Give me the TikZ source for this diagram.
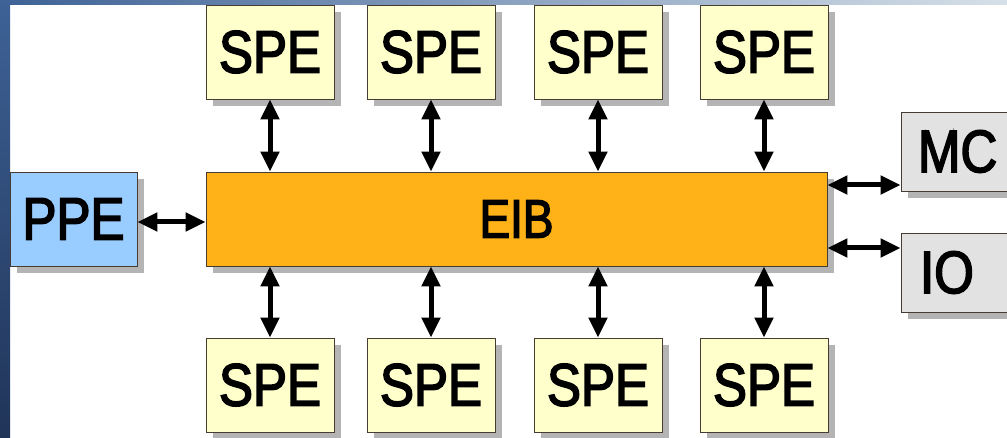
\documentclass[tikz,border=0pt]{standalone}
\usepackage{fontspec}
\newfontfamily\boxfont[FakeStretch=0.85,FakeBold=2.6]{Liberation Sans}
\usetikzlibrary{arrows.meta,shadows}

\definecolor{speFill}{RGB}{255,255,204}
\definecolor{ppeFill}{RGB}{153,204,255}
\definecolor{eibFill}{RGB}{255,178,24}
\definecolor{ioFill}{RGB}{226,226,226}
\definecolor{edge}{RGB}{70,60,50}
\definecolor{shadowGray}{RGB}{180,180,180}
\definecolor{frameDark}{RGB}{32,52,88}
\definecolor{frameMid}{RGB}{62,98,150}
\definecolor{frameLight}{RGB}{214,224,232}

\tikzset{
  unit/.style={draw=edge, line width=0.9pt, inner sep=0pt,
    font=\boxfont\fontsize{60}{60}\selectfont,
    drop shadow={shadow xshift=7pt, shadow yshift=-7pt, fill=shadowGray, opacity=1}},
  spebox/.style={unit, fill=speFill, minimum width=128pt, minimum height=94pt},
  link/.style={line width=5pt, {Triangle[length=20pt,width=18pt]}-{Triangle[length=20pt,width=18pt]}},
}

\begin{document}
\begin{tikzpicture}[x=1pt, y=-1pt]
  \useasboundingbox (0,0) rectangle (1007,438);
  \clip (0,0) rectangle (1007,438);
  \fill[white] (0,0) rectangle (1007,438);
  % slide frame: gradient strips along the left and top edges
  \shade[top color=frameMid, bottom color=frameDark] (0,0) rectangle (10,438);
  \shade[left color=frameMid, right color=frameLight] (0,0) rectangle (1007,5);

  % element interconnect bus
  \node[unit, fill=eibFill, minimum width=621pt, minimum height=94pt,
        font=\boxfont\fontsize{54}{54}\selectfont] (eib) at (516.5,219) {EIB};

  % power processor element
  \node[unit, fill=ppeFill, minimum width=127pt, minimum height=94pt] (ppe) at (73.5,219) {PPE};

  % memory controller and I/O
  \node[unit, fill=ioFill, minimum width=130pt, minimum height=79pt, text width=130pt, align=left] (mc) at (966,151.5) {\hspace{17pt}MC};
  \node[unit, fill=ioFill, minimum width=130pt, minimum height=79pt, text width=130pt, align=left] (io) at (966,272.5) {\hspace{19pt}IO};

  % synergistic processor elements
  \foreach \i/\x in {1/270, 2/431, 3/598, 4/764} {
    \node[spebox] (top\i) at (\x,52) {SPE};
    \node[spebox] (bot\i) at (\x,385) {SPE};
    \draw[link] (top\i.south) -- (top\i.south |- eib.north);
    \draw[link] (bot\i.north) -- (bot\i.north |- eib.south);
  }

  % bus connections
  \draw[link] (ppe.east |- 0,222) -- (eib.west |- 0,222);
  \draw[link] (eib.east |- 0,185) -- (mc.west |- 0,185);
  \draw[link] (eib.east |- 0,248) -- (io.west |- 0,248);
\end{tikzpicture}
\end{document}
